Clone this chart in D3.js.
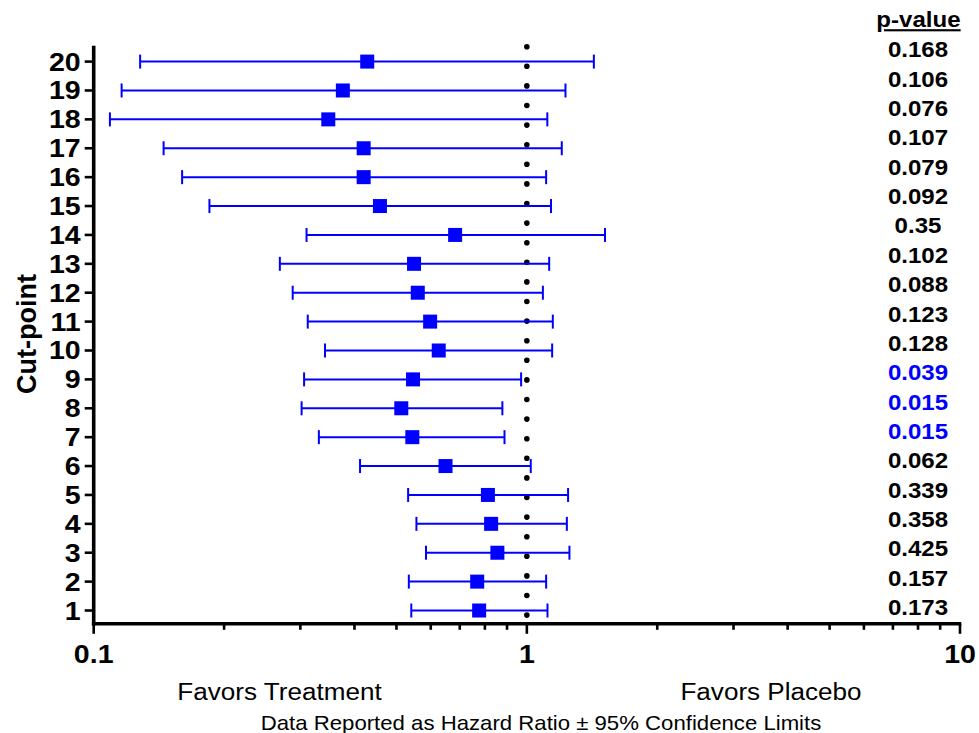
<!DOCTYPE html>
<html>
<head>
<meta charset="utf-8">
<script src="https://cdn.jsdelivr.net/npm/d3@7"></script>
<style>
  html, body { margin: 0; padding: 0; background: #fff; }
  svg { display: block; }
  text { font-family: "Liberation Sans", Arial, Helvetica, sans-serif; }
</style>
</head>
<body>
<svg id="chart" width="979" height="733"></svg>
<script>
// ---- data ----
const cutPoints   = [1, 2, 3, 4, 5, 6, 7, 8, 9, 10, 11, 12, 13, 14, 15, 16, 17, 18, 19, 20];
const hazardRatio = [0.776, 0.768, 0.855, 0.827, 0.813, 0.649, 0.544, 0.513, 0.546, 0.626,
                     0.598, 0.560, 0.549, 0.683, 0.458, 0.420, 0.420, 0.348, 0.376, 0.428];
const lowerCL     = [0.541, 0.534, 0.585, 0.556, 0.532, 0.412, 0.331, 0.302, 0.306, 0.342,
                     0.312, 0.288, 0.269, 0.310, 0.185, 0.160, 0.145, 0.109, 0.116, 0.128];
const upperCL     = [1.116, 1.108, 1.254, 1.237, 1.245, 1.021, 0.888, 0.878, 0.970, 1.144,
                     1.148, 1.089, 1.126, 1.515, 1.137, 1.108, 1.204, 1.115, 1.228, 1.428];
const pValues     = ["0.173", "0.157", "0.425", "0.358", "0.339", "0.062", "0.015", "0.015", "0.039", "0.128",
                     "0.123", "0.088", "0.102", "0.35", "0.092", "0.079", "0.107", "0.076", "0.106", "0.168"];
const xTickLabels = [0.1, 1, 10];
const yAxisTitle  = "Cut-point";
const pHeader     = "p-value";
const leftNote    = "Favors Treatment";
const rightNote   = "Favors Placebo";
const footNote    = "Data Reported as Hazard Ratio \u00B1 95% Confidence Limits";

const rows = cutPoints.map((c, i) => ({ c, hr: hazardRatio[i], lo: lowerCL[i], hi: upperCL[i], p: pValues[i] }));

// ---- layout ----
const svg = d3.select("#chart");
const BLUE = "#0000ff";
const SX = 1.12; // horizontal text stretch seen in the reference

const x = d3.scaleLog().domain([0.1, 10]).range([93.7, 960]);
const y = d3.scaleLinear().domain([0.54, 20.55]).range([623.8, 45.7]);
const pY = d3.scaleLinear().domain([1, 20]).range([607.5, 49.5]);

function stretchedText(g, tx, ty, str) {
  return g.append("text")
    .attr("transform", `translate(${tx},${ty}) scale(${SX},1)`)
    .text(str);
}

// ---- reference dotted line at HR = 1 ----
svg.append("line")
  .attr("x1", x(1)).attr("x2", x(1))
  .attr("y1", y.range()[1] + 1).attr("y2", y.range()[0] - 7)
  .attr("stroke", "#000").attr("stroke-width", 5.6)
  .attr("stroke-linecap", "round")
  .attr("stroke-dasharray", "0 19.6");

// ---- error bars ----
const bars = svg.append("g").selectAll("g").data(rows).join("g");
bars.append("line")
  .attr("x1", d => x(d.lo)).attr("x2", d => x(d.hi))
  .attr("y1", d => y(d.c)).attr("y2", d => y(d.c))
  .attr("stroke", BLUE).attr("stroke-width", 2);
bars.append("line")
  .attr("x1", d => x(d.lo)).attr("x2", d => x(d.lo))
  .attr("y1", d => y(d.c) - 7).attr("y2", d => y(d.c) + 7)
  .attr("stroke", BLUE).attr("stroke-width", 2);
bars.append("line")
  .attr("x1", d => x(d.hi)).attr("x2", d => x(d.hi))
  .attr("y1", d => y(d.c) - 7).attr("y2", d => y(d.c) + 7)
  .attr("stroke", BLUE).attr("stroke-width", 2);
bars.append("rect")
  .attr("x", d => x(d.hr) - 7).attr("y", d => y(d.c) - 7)
  .attr("width", 14).attr("height", 14)
  .attr("fill", BLUE);

// ---- Y axis ----
const yAxis = svg.append("g").attr("transform", `translate(${x.range()[0]},0)`);
yAxis.append("line")
  .attr("x1", 0).attr("x2", 0)
  .attr("y1", y.range()[1]).attr("y2", y.range()[0] + 1.7)
  .attr("stroke", "#000").attr("stroke-width", 3.6);
yAxis.selectAll("line.tick").data(cutPoints).join("line")
  .attr("class", "tick")
  .attr("x1", -9).attr("x2", 0)
  .attr("y1", d => y(d)).attr("y2", d => y(d))
  .attr("stroke", "#000").attr("stroke-width", 2.6);
yAxis.selectAll("text").data(cutPoints).join("text")
  .attr("transform", d => `translate(-13,${y(d) + 9}) scale(${SX},1)`)
  .attr("text-anchor", "end")
  .attr("font-size", 25.5).attr("font-weight", "bold")
  .text(d => d);

// ---- X axis ----
const xAxis = svg.append("g").attr("transform", `translate(0,${y.range()[0]})`);
xAxis.append("line")
  .attr("x1", x.range()[0] - 1.8).attr("x2", x.range()[1] + 1.3)
  .attr("y1", 0).attr("y2", 0)
  .attr("stroke", "#000").attr("stroke-width", 3.6);
const allTicks = x.ticks();
xAxis.selectAll("line.tick").data(allTicks).join("line")
  .attr("class", "tick")
  .attr("x1", d => x(d)).attr("x2", d => x(d))
  .attr("y1", 0).attr("y2", d => xTickLabels.includes(d) ? 10 : 6)
  .attr("stroke", "#000").attr("stroke-width", 2.6);
xAxis.selectAll("text").data(xTickLabels).join("text")
  .attr("transform", d => `translate(${x(d)},39.5) scale(${SX},1)`)
  .attr("text-anchor", "middle")
  .attr("font-size", 25.5).attr("font-weight", "bold")
  .text(d => d3.format("~g")(d));

// ---- Y axis title ----
svg.append("text")
  .attr("transform", `translate(36,334) rotate(-90)`)
  .attr("text-anchor", "middle")
  .attr("font-size", 27).attr("font-weight", "bold")
  .text(yAxisTitle);

// ---- p-value column ----
stretchedText(svg, 918.5, 27.3, pHeader)
  .attr("text-anchor", "middle")
  .attr("font-size", 21.5).attr("font-weight", "bold")
  .attr("text-decoration", "underline");
svg.append("g").selectAll("text").data(rows).join("text")
  .attr("transform", d => `translate(918,${pY(d.c) + 7.7}) scale(${SX},1)`)
  .attr("text-anchor", "middle")
  .attr("font-size", 21.5).attr("font-weight", "bold")
  .attr("fill", d => (+d.p < 0.05 ? BLUE : "#000"))
  .text(d => d.p);

// ---- bottom notes ----
stretchedText(svg, 279.5, 700, leftNote)
  .attr("text-anchor", "middle").attr("font-size", 23.3);
stretchedText(svg, 771, 700, rightNote)
  .attr("text-anchor", "middle").attr("font-size", 23.3);
stretchedText(svg, 541, 730, footNote)
  .attr("text-anchor", "middle").attr("font-size", 19.8);
</script>
</body>
</html>
